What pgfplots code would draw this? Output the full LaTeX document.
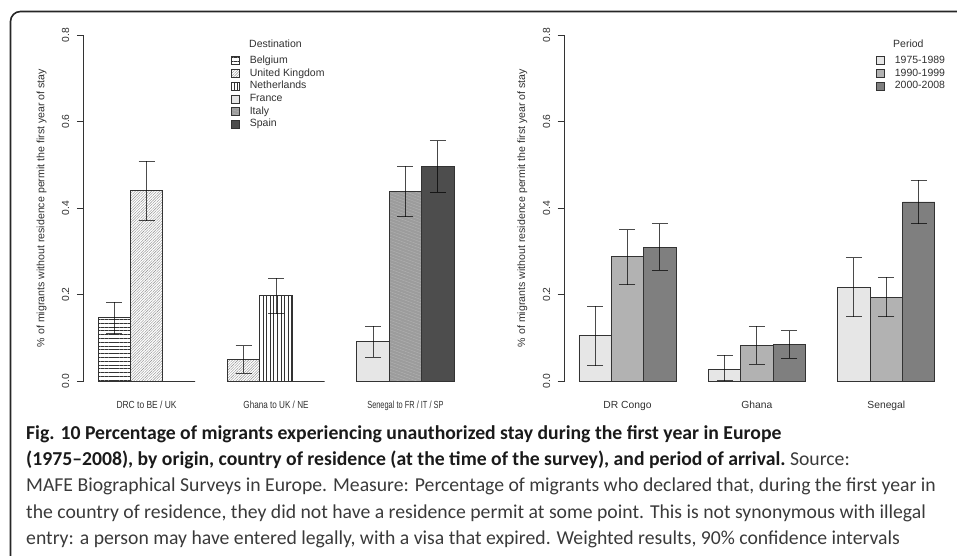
\documentclass[border=0pt]{standalone}
\usepackage{fontspec}
\setmainfont{Liberation Sans}
\newfontfamily\capfont{Carlito}
\usepackage{pgfplots}
\pgfplotsset{compat=1.18}
\usetikzlibrary{patterns.meta}
\definecolor{edge}{HTML}{333333}
\definecolor{txt}{HTML}{303030}
\definecolor{capbold}{HTML}{1A1A1A}
\definecolor{capreg}{HTML}{3A3A3A}
\definecolor{cA}{HTML}{E6E6E6}
\definecolor{cB}{HTML}{B2B2B2}
\definecolor{cC}{HTML}{7F7F7F}
\definecolor{cIt}{HTML}{9C9C9C}
\definecolor{cItl}{HTML}{B0B0B0}
\definecolor{cSp}{HTML}{4D4D4D}
\definecolor{cUK}{HTML}{8C8C8C}
\pgfplotsset{
  panel/.style={
    scale only axis, width=384.4pt, height=373.6pt,
    xmin=0.56, xmax=12.44, ymin=-0.032, ymax=0.832,
    clip=false,
    axis line style={draw=none},
    xtick={2.5,6.5,10.5}, xtick style={draw=none},
    ytick={0,0.2,0.4,0.6,0.8},
    yticklabels={0.0,0.2,0.4,0.6,0.8},
    ytick pos=left, xtick pos=bottom,
    tick align=outside, major tick length=7pt,
    ytick style={draw=edge, line width=0.8pt},
    yticklabel style={xshift=-4pt, rotate=90, anchor=south, font=\fontsize{10.3}{12}\selectfont, text=txt},
    xticklabel style={yshift=4pt, font=\fontsize{10.3}{12}\selectfont, text=txt},
    ylabel={\% of migrants without residence permit the first year of stay},
    ylabel style={at={(axis description cs:-0.110,0.5)}, anchor=center, font=\fontsize{10.6}{12}\selectfont, text=txt},
    legend style={draw=none, fill=none, inner sep=0pt, anchor=north west,
      font=\fontsize{10.5}{12}\selectfont, text=txt, row sep=2.7pt, column sep=10pt,
      nodes={inner sep=0pt, text height=7.6pt, text depth=2.4pt}},
    legend cell align=left,
    legend image code/.code={\draw[##1, line width=0.6pt] (0pt,-4pt) rectangle (8pt,4pt);},
  },
  bars/.style={ybar, bar width=1, bar shift=0pt, draw=edge, line width=0.8pt,
    error bars/y dir=both, error bars/y explicit,
    error bars/error bar style={draw=black, opacity=0.7, line width=1pt},
    error bars/error mark options={rotate=90, mark size=8pt, draw=black, opacity=0.7, line width=1pt}},
}
\begin{document}
\begin{tikzpicture}[x=1pt,y=1pt]
\path[use as bounding box] (0,0) rectangle (957,555);
\draw[line width=1.6pt, color=black!85, rounded corners=10pt] (10.5,-5) -- (10.5,543.5) -- (965,543.5);

\begin{axis}[panel, at={(83.8pt,160.2pt)}, anchor=south west,
  xticklabels={\scalebox{0.82}[1]{DRC to BE / UK},\scalebox{0.79}[1]{Ghana to UK / NE},\scalebox{0.72}[1]{Senegal to FR / IT / SP}},
  legend style={at={(axis description cs:0.383,0.908)}}]
\addplot[bars, fill=white, postaction={pattern={Lines[angle=0,distance=3.8pt,line width=0.7pt]}, pattern color=edge}]
  coordinates {(1.5,0.146) += (0,0.036) -= (0,0.037)};
\addlegendentry{Belgium}
\addplot[bars, fill=white, postaction={pattern={Lines[angle=45,distance=1.9pt,line width=0.4pt]}, pattern color=cUK}]
  coordinates {(2.5,0.440) += (0,0.068) -= (0,0.069) (5.5,0.050) += (0,0.032) -= (0,0.032)};
\addlegendentry{United Kingdom}
\addplot[bars, fill=white, postaction={pattern={Lines[angle=90,distance=3.6pt,line width=0.6pt]}, pattern color=edge}]
  coordinates {(6.5,0.197) += (0,0.041) -= (0,0.041)};
\addlegendentry{Netherlands}
\addplot[bars, fill=cA]
  coordinates {(9.5,0.092) += (0,0.034) -= (0,0.037)};
\addlegendentry{France}
\addplot[bars, fill=cIt, postaction={pattern={Lines[angle=-20,distance=3pt,line width=0.5pt]}, pattern color=cItl}]
  coordinates {(10.5,0.438) += (0,0.059) -= (0,0.058)};
\addlegendentry{Italy}
\addplot[bars, fill=cSp]
  coordinates {(11.5,0.497) += (0,0.059) -= (0,0.060)};
\addlegendentry{Spain}
\addplot[ybar, bar width=1, bar shift=0pt, draw=edge, line width=0.8pt, forget plot]
  coordinates {(3.5,0) (7.5,0)};
\draw[edge, line width=0.8pt] (axis cs:0.56,0) -- (axis cs:0.56,0.8);
\node[anchor=west, inner sep=0pt, font=\fontsize{10.5}{12}\selectfont, text=txt] at (axis description cs:0.4298,0.939) {Destination};
\end{axis}

\begin{axis}[panel, at={(564.7pt,160.2pt)}, anchor=south west,
  xticklabels={DR Congo,Ghana,Senegal},
  legend style={at={(axis description cs:0.810,0.908)}}]
\addplot[bars, fill=cA]
  coordinates {(1.5,0.105) += (0,0.068) -= (0,0.070) (5.5,0.027) += (0,0.033) -= (0,0.027) (9.5,0.216) += (0,0.069) -= (0,0.068)};
\addlegendentry{1975-1989}
\addplot[bars, fill=cB]
  coordinates {(2.5,0.287) += (0,0.063) -= (0,0.064) (6.5,0.082) += (0,0.044) -= (0,0.043) (10.5,0.193) += (0,0.047) -= (0,0.045)};
\addlegendentry{1990-1999}
\addplot[bars, fill=cC]
  coordinates {(3.5,0.309) += (0,0.054) -= (0,0.053) (7.5,0.085) += (0,0.031) -= (0,0.032) (11.5,0.414) += (0,0.050) -= (0,0.050)};
\addlegendentry{2000-2008}
\draw[edge, line width=0.8pt] (axis cs:0.56,0) -- (axis cs:0.56,0.8);
\node[anchor=west, inner sep=0pt, font=\fontsize{10.5}{12}\selectfont, text=txt] at (axis description cs:0.854,0.939) {Period};
\end{axis}

\begin{scope}[every node/.style={anchor=base west, inner sep=0pt, font=\capfont\fontsize{19.7}{24}\selectfont}]
\node[text=capbold] at (26,116) {\textbf{Fig. 10 Percentage of migrants experiencing unauthorized stay during the first year in Europe}};
\node at (26,89.5) {\textcolor{capbold}{\textbf{(1975–2008), by origin, country of residence (at the time of the survey), and period of arrival.}}\ \textcolor{capreg}{Source:}};
\node[text=capreg] at (26,63.2) {MAFE Biographical Surveys in Europe. Measure: Percentage of migrants who declared that, during the first year in};
\node[text=capreg] at (26,37) {the country of residence, they did not have a residence permit at some point. This is not synonymous with illegal};
\node[text=capreg] at (26,11) {entry: a person may have entered legally, with a visa that expired. Weighted results, 90\% confidence intervals};
\end{scope}
\end{tikzpicture}
\end{document}
